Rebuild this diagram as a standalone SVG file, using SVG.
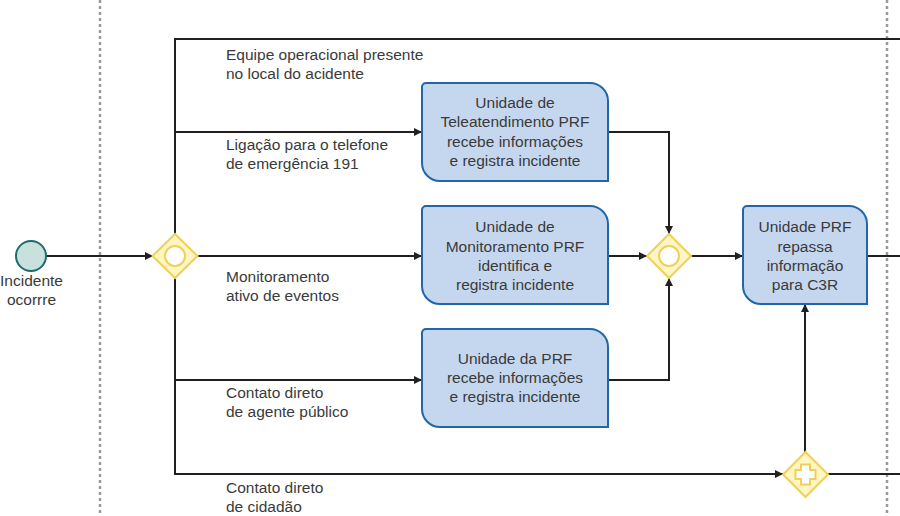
<svg xmlns="http://www.w3.org/2000/svg" width="900" height="516" viewBox="0 0 900 516">
<style>
text{font-family:"Liberation Sans",Arial,sans-serif;font-size:15.5px;fill:#3a3a3a}
.c{text-anchor:middle}
.flow{fill:none;stroke:#231f20;stroke-width:2}
.lane{stroke:#9a9a9a;stroke-width:2.5;stroke-dasharray:3 3}
.task{fill:#c5d7ee;stroke:#2166ab;stroke-width:2}
.gw{fill:#fff6c4;stroke:#f0d058;stroke-width:2}
.gwi{fill:#fff;stroke:#f0d058;stroke-width:2}
</style>
<defs>
<marker id="arr" viewBox="0 0 10 10" refX="10" refY="5" markerWidth="9" markerHeight="8" markerUnits="userSpaceOnUse" orient="auto">
<path d="M0,0 L10,5 L0,10 z" fill="#231f20"/>
</marker>
</defs>
<rect width="900" height="516" fill="#fff"/>
<g id="lanes">
<line class="lane" x1="100" y1="0" x2="100" y2="516"/>
<line class="lane" x1="887" y1="0" x2="887" y2="516"/>
</g>
<g id="connectors">
<line class="flow" x1="46" y1="256" x2="153" y2="256" marker-end="url(#arr)"/>
<polyline class="flow" points="175,234 175,39 900,39"/>
<polyline class="flow" points="175,278 175,474 783,474" marker-end="url(#arr)"/>
<line class="flow" x1="828" y1="474" x2="900" y2="474"/>
<line class="flow" x1="175" y1="132" x2="422" y2="132" marker-end="url(#arr)"/>
<line class="flow" x1="198" y1="256" x2="422" y2="256" marker-end="url(#arr)"/>
<line class="flow" x1="175" y1="380" x2="422" y2="380" marker-end="url(#arr)"/>
<polyline class="flow" points="608,132 669,132 669,234" marker-end="url(#arr)"/>
<line class="flow" x1="608" y1="256" x2="647" y2="256" marker-end="url(#arr)"/>
<polyline class="flow" points="608,380 669,380 669,278" marker-end="url(#arr)"/>
<line class="flow" x1="691" y1="256" x2="743" y2="256" marker-end="url(#arr)"/>
<line class="flow" x1="805" y1="452" x2="805" y2="304" marker-end="url(#arr)"/>
<line class="flow" x1="867" y1="256" x2="900" y2="256"/>
</g>
<g id="labels">
<text x="226" y="60">Equipe operacional presente</text>
<text x="226" y="79">no local do acidente</text>
<text x="226" y="150">Ligação para o telefone</text>
<text x="226" y="169">de emergência 191</text>
<text x="226" y="282">Monitoramento</text>
<text x="226" y="301">ativo de eventos</text>
<text x="226" y="398">Contato direto</text>
<text x="226" y="417">de agente público</text>
<text x="226" y="493">Contato direto</text>
<text x="226" y="512">de cidadão</text>
</g>
<g id="start">
<circle cx="31" cy="256" r="15" fill="#c8e1dc" stroke="#1d6b6b" stroke-width="2"/>
<text class="c" x="31.5" y="286">Incidente</text>
<text class="c" x="31.5" y="305">ocorrre</text>
</g>
<g id="gw1">
<polygon class="gw" points="175,234 197.5,256 175,278 152.5,256"/>
<circle class="gwi" cx="175" cy="256" r="10"/>
</g>
<g id="task1">
<path class="task" d="M426,83 H590 A18,18 0 0 1 608,101 V181 H440 A18,18 0 0 1 422,163 V87 A4,4 0 0 1 426,83 Z"/>
<text class="c" x="515" y="108">Unidade de</text>
<text class="c" x="515" y="127">Teleatendimento PRF</text>
<text class="c" x="515" y="147">recebe informações</text>
<text class="c" x="515" y="166">e registra incidente</text>
</g>
<g id="task2">
<path class="task" d="M426,206 H590 A18,18 0 0 1 608,224 V304 H440 A18,18 0 0 1 422,286 V210 A4,4 0 0 1 426,206 Z"/>
<text class="c" x="515" y="232">Unidade de</text>
<text class="c" x="515" y="252">Monitoramento PRF</text>
<text class="c" x="515" y="271">identifica e</text>
<text class="c" x="515" y="290">registra incidente</text>
</g>
<g id="task3">
<path class="task" d="M426,329 H590 A18,18 0 0 1 608,347 V427 H440 A18,18 0 0 1 422,409 V333 A4,4 0 0 1 426,329 Z"/>
<text class="c" x="515" y="364">Unidade da PRF</text>
<text class="c" x="515" y="383">recebe informações</text>
<text class="c" x="515" y="402">e registra incidente</text>
</g>
<g id="gw2">
<polygon class="gw" points="669,234 691,256 669,278 647,256"/>
<circle class="gwi" cx="669" cy="256" r="10"/>
</g>
<g id="task4">
<path class="task" d="M747,206 H849 A18,18 0 0 1 867,224 V304 H761 A18,18 0 0 1 743,286 V210 A4,4 0 0 1 747,206 Z"/>
<text class="c" x="805" y="232">Unidade PRF</text>
<text class="c" x="805" y="252">repassa</text>
<text class="c" x="805" y="271">informação</text>
<text class="c" x="805" y="290">para C3R</text>
</g>
<g id="gw3">
<polygon class="gw" points="805.5,452 828,474.5 805.5,497 783,474.5"/>
<polygon class="gwi" points="801,464.5 810,464.5 810,470 815.5,470 815.5,479 810,479 810,484.5 801,484.5 801,479 795.5,479 795.5,470 801,470"/>
</g>
</svg>
